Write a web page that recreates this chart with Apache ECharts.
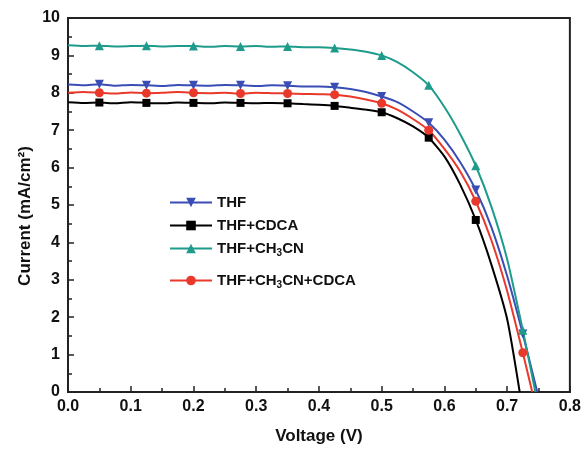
<!DOCTYPE html>
<html>
<head>
<meta charset="utf-8">
<script src="https://cdn.jsdelivr.net/npm/echarts@6/dist/echarts.min.js"></script>
<style>
  html, body { margin: 0; padding: 0; background: #fff; }
  #chart { width: 584px; height: 450px; }
</style>
</head>
<body>
<div id="chart"></div>
<script>
// voltage grid (V)
var voltage = [0, 0.025, 0.05, 0.075, 0.1, 0.125, 0.15, 0.175, 0.2, 0.225, 0.25, 0.275, 0.3, 0.325, 0.35,
  0.375, 0.4, 0.425, 0.45, 0.475, 0.5, 0.525, 0.55, 0.575, 0.6, 0.625, 0.65, 0.675, 0.7, 0.725];
// voltages where a marker is drawn
var markerVoltage = [0.05, 0.125, 0.2, 0.275, 0.35, 0.425, 0.5, 0.575, 0.65, 0.725];

// current (mA/cm2)
var thf = [8.22, 8.2, 8.23, 8.19, 8.21, 8.2, 8.18, 8.21, 8.2, 8.19, 8.21, 8.2, 8.18, 8.2, 8.19,
  8.17, 8.17, 8.15, 8.1, 8.02, 7.9, 7.75, 7.5, 7.2, 6.75, 6.15, 5.4, 4.4, 3.1, 1.55];
var thfCdca = [7.75, 7.73, 7.74, 7.72, 7.75, 7.73, 7.72, 7.74, 7.73, 7.72, 7.74, 7.73, 7.72, 7.73, 7.72,
  7.7, 7.68, 7.65, 7.6, 7.55, 7.48, 7.32, 7.1, 6.8, 6.3, 5.55, 4.6, 3.4, 1.95];
var thfCh3cn = [9.27, 9.25, 9.26, 9.24, 9.25, 9.26, 9.24, 9.25, 9.25, 9.23, 9.25, 9.24, 9.25, 9.23, 9.24,
  9.22, 9.22, 9.2, 9.16, 9.1, 9.0, 8.82, 8.55, 8.2, 7.62, 6.9, 6.05, 4.95, 3.55, 1.65];
var thfCh3cnCdca = [8.0, 8.02, 8.0, 7.98, 8.01, 7.99, 8.0, 8.02, 8.0, 7.99, 8.0, 7.98, 8.0, 7.99, 7.98,
  7.97, 7.96, 7.95, 7.9, 7.82, 7.72, 7.55, 7.3, 7.0, 6.5, 5.9, 5.1, 4.05, 2.7, 1.05];
// open circuit voltage (current = 0)
var voc = { thf: 0.748, thfCdca: 0.72, thfCh3cn: 0.745, thfCh3cnCdca: 0.74 };

var names = ['THF', 'THF+CDCA', 'THF+CH3CN', 'THF+CH3CN+CDCA'];
var colors = ['#3a4db5', '#000000', '#1f9b8c', '#e8392b'];

var chart = echarts.init(document.getElementById('chart'));

function buildData(vals, end) {
  var d = [];
  for (var i = 0; i < vals.length; i++) {
    var item = { value: [voltage[i], vals[i]] };
    if (markerVoltage.indexOf(voltage[i]) < 0) item.symbol = 'none';
    d.push(item);
  }
  d.push({ value: [end, 0], symbol: 'none' });
  return d;
}

function makeSeries(name, vals, end, color, symbol, rotate) {
  return {
    name: name,
    type: 'line',
    data: buildData(vals, end),
    smooth: 0.2,
    showAllSymbol: true,
    symbol: symbol,
    symbolRotate: rotate || 0,
    symbolSize: symbol == 'rect' ? 8 : 9,
    lineStyle: { color: color, width: 2 },
    itemStyle: { color: color },
    z: 3
  };
}

var font = 'Liberation Sans';
var axisFont = { fontFamily: font, fontWeight: 'bold', fontSize: 16, color: '#111' };
var titleFont = { fontFamily: font, fontWeight: 'bold', fontSize: 17, color: '#111' };

// legend look, shared by the two legend blocks
function legendBlock(top, data) {
  return {
    orient: 'vertical',
    left: 164, top: top,
    itemWidth: 42, itemHeight: 12, itemGap: 8,
    data: data,
    formatter: function(n) { return n.replace('CH3CN', 'CH{sub|3}CN'); },
    textStyle: {
      fontFamily: font, fontWeight: 'bold', fontSize: 15, color: '#111',
      rich: {
        sub: { fontFamily: font, fontWeight: 'bold', fontSize: 10, color: '#111', padding: [10, 0, 0, 0] }
      }
    }
  };
}

var option = {
  animation: false,
  grid: {
    left: 68, right: 12, top: 18, bottom: 57,
    show: true, borderColor: '#222', borderWidth: 2
  },
  legend: [
    legendBlock(190, names.slice(0, 3)),
    legendBlock(268, names.slice(3))
  ],
  xAxis: {
    type: 'value',
    min: 0, max: 0.8, interval: 0.1,
    name: 'Voltage (V)',
    nameLocation: 'middle',
    nameGap: 36,
    nameTextStyle: titleFont,
    axisLine: { lineStyle: { color: '#222', width: 2 } },
    axisTick: { inside: true, length: 6, lineStyle: { color: '#222', width: 1.5 } },
    minorTick: { show: true, splitNumber: 2, length: 4, lineStyle: { color: '#222', width: 1.5 } },
    splitLine: { show: false },
    axisLabel: Object.assign({ margin: 7, formatter: function(v) { return v.toFixed(1); } }, axisFont)
  },
  yAxis: {
    type: 'value',
    min: 0, max: 10, interval: 1,
    name: 'Current (mA/cm²)',
    nameLocation: 'middle',
    nameGap: 34,
    nameMoveOverlap: false,
    nameTextStyle: Object.assign({ padding: [0, 22, 0, 0] }, titleFont),
    axisLine: { lineStyle: { color: '#222', width: 2 } },
    axisTick: { inside: true, length: 6, lineStyle: { color: '#222', width: 1.5 } },
    minorTick: { show: true, splitNumber: 2, length: 4, lineStyle: { color: '#222', width: 1.5 } },
    splitLine: { show: false },
    axisLabel: Object.assign({ margin: 8 }, axisFont)
  },
  series: [
    makeSeries(names[0], thf, voc.thf, colors[0], 'triangle', 180),
    makeSeries(names[1], thfCdca, voc.thfCdca, colors[1], 'rect'),
    makeSeries(names[2], thfCh3cn, voc.thfCh3cn, colors[2], 'triangle'),
    makeSeries(names[3], thfCh3cnCdca, voc.thfCh3cnCdca, colors[3], 'circle')
  ]
};
chart.setOption(option);
</script>
</body>
</html>
